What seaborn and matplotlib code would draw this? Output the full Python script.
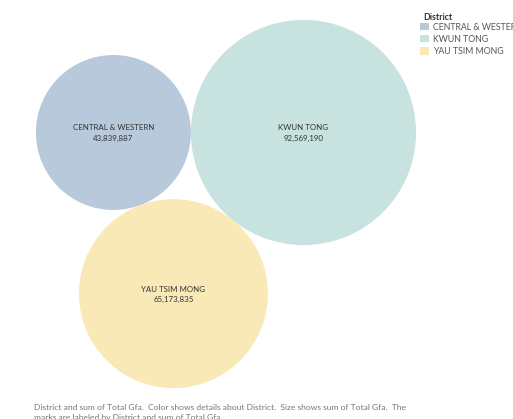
import numpy as np
import pandas as pd
import matplotlib
matplotlib.use("Agg")
import matplotlib.pyplot as plt
from matplotlib.patches import Patch
import seaborn as sns

# Total GFA by district
districts = ["CENTRAL & WESTERN", "KWUN TONG", "YAU TSIM MONG"]
total_gfa = [43839887, 92569190, 65173835]
colors = ["#b8c9dc", "#c8e2e0", "#f8e9b6"]

W, H, DPI = 513, 419, 100
PX_PER_SQRT = 0.011703          # bubble radius (px) per sqrt(value)
VIEW_CENTER = (226.0, 204.0)    # centre of the bubble view area (px)

sns.set_theme(style="white")
plt.rcParams["font.family"] = ["Lato", "DejaVu Sans"]

df = pd.DataFrame({"District": districts, "Total Gfa": total_gfa})
df["r"] = PX_PER_SQRT * np.sqrt(df["Total Gfa"])

# Pack the bubbles: largest at the origin, smallest tangent on its left,
# the remaining one tangent to both underneath.
ranked = df["Total Gfa"].sort_values(ascending=False).index.tolist()
big, left, below = ranked[0], ranked[2], ranked[1]
rb, rl, rw = df.loc[big, "r"], df.loc[left, "r"], df.loc[below, "r"]
pos = {big: (0.0, 0.0), left: (-(rb + rl), 0.0)}
d_bw, d_lw, d_bl = rb + rw, rl + rw, rb + rl
wx = (d_lw ** 2 - d_bw ** 2 - d_bl ** 2) / (2 * d_bl)
wy = np.sqrt(d_bw ** 2 - wx ** 2)
pos[below] = (wx, wy)
df["x"] = [pos[i][0] for i in df.index]
df["y"] = [pos[i][1] for i in df.index]

# Centre the packed group inside the view
xmin = (df["x"] - df["r"]).min(); xmax = (df["x"] + df["r"]).max()
ymin = (df["y"] - df["r"]).min(); ymax = (df["y"] + df["r"]).max()
df["x"] += VIEW_CENTER[0] - (xmin + xmax) / 2
df["y"] += VIEW_CENTER[1] - (ymin + ymax) / 2

# Marker area in points^2 so that the marker diameter equals 2r pixels
sizes = {d: (2 * r * 72.0 / DPI) ** 2 for d, r in zip(df["District"], df["r"])}
palette = dict(zip(districts, colors))

fig = plt.figure(figsize=(W / DPI, H / DPI), dpi=DPI)
ax = fig.add_axes([0, 0, 1, 1])
ax.set_xlim(0, W)
ax.set_ylim(H, 0)
ax.set_aspect("equal")
ax.axis("off")

sns.scatterplot(data=df, x="x", y="y", hue="District", size="District",
                palette=palette, sizes=sizes, linewidth=0, alpha=1,
                legend=False, ax=ax)

for _, row in df.iterrows():
    ax.text(row["x"], row["y"] - 4.5, row["District"], ha="center", va="center",
            fontsize=5.7, color="#333333")
    ax.text(row["x"], row["y"] + 5.5, f"{row['Total Gfa']:,}", ha="center",
            va="center", fontsize=5.7, color="#333333")

# Colour legend
fig.text(423 / W, 1 - 17 / H, "District", fontsize=6.3, fontweight="bold",
         color="#333333", va="center", ha="left")
handles = [Patch(facecolor=c, edgecolor="none") for c in colors]
fig.legend(handles, districts, loc="upper left",
           bbox_to_anchor=(420 / W, 1 - 22.5 / H), frameon=False,
           fontsize=6.3, labelcolor="#555555", handlelength=1.0,
           handleheight=1.0, handletextpad=0.45, labelspacing=0.35,
           borderpad=0, borderaxespad=0)

# Caption
fig.text(34 / W, 1 - 412.5 / H,
         "District and sum of Total Gfa.  Color shows details about District.  "
         "Size shows sum of Total Gfa.  The\nmarks are labeled by District and sum of Total Gfa.",
         fontsize=6.1, color="#777777", va="center", ha="left", linespacing=1.45)

fig.savefig("out.png", dpi=DPI)
